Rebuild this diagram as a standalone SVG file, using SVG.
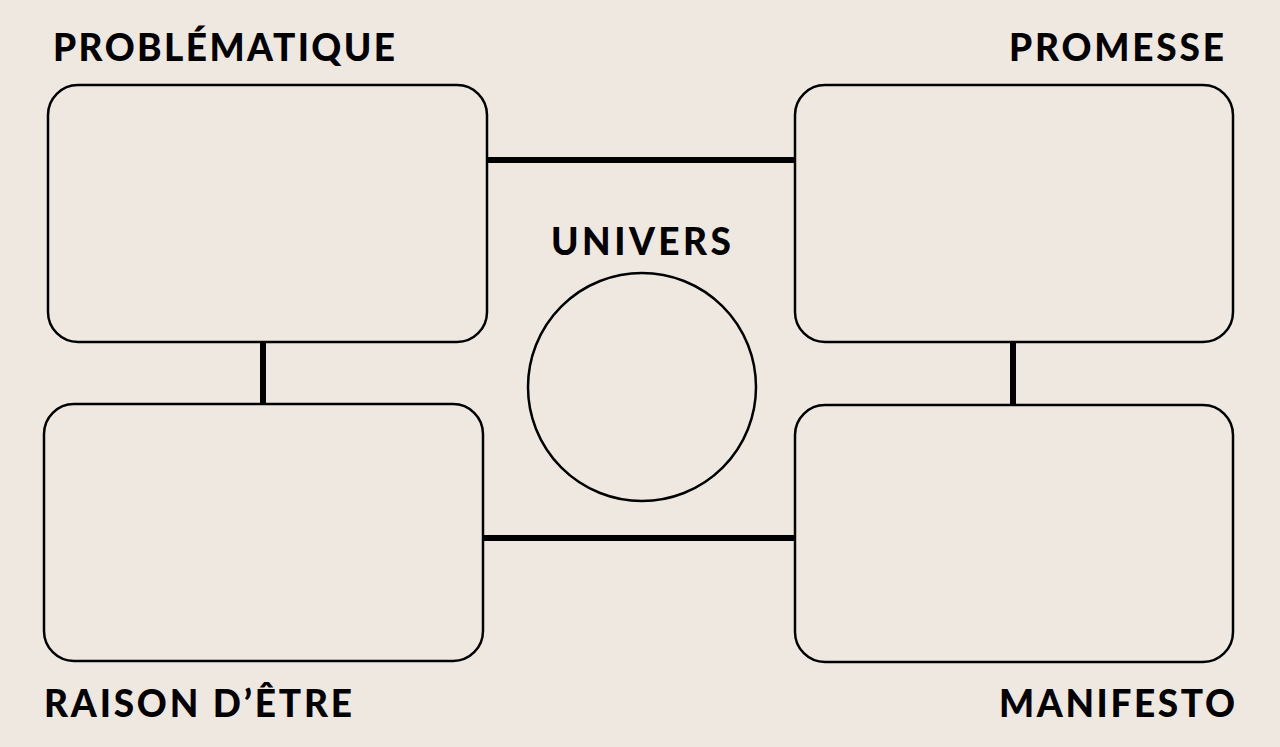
<svg xmlns="http://www.w3.org/2000/svg" width="1280" height="747" viewBox="0 0 1280 747">
<style>
.box{fill:none;stroke:#000;stroke-width:2.5}
.lnk{stroke:#000;stroke-width:6}
.t{font-family:Lato,"Liberation Sans",sans-serif;font-weight:900;font-size:37px;fill:#000}
</style>
<rect width="1280" height="747" fill="#efe8e1"/>
<g id="connectors">
<line class="lnk" x1="487" y1="160" x2="795" y2="160"/>
<line class="lnk" x1="483" y1="538" x2="795" y2="538"/>
<line class="lnk" x1="263" y1="342" x2="263" y2="404"/>
<line class="lnk" x1="1013" y1="342" x2="1013" y2="405"/>
</g>
<g id="problematique"><rect class="box" x="48" y="85" width="439" height="257" rx="30"/><text class="t" x="53" y="61" textLength="342">PROBLÉMATIQUE</text></g>
<g id="promesse"><rect class="box" x="795" y="85" width="438" height="257" rx="30"/><text class="t" x="1009" y="61" textLength="215">PROMESSE</text></g>
<g id="raison"><rect class="box" x="44" y="404" width="439" height="257" rx="30"/><text class="t" x="44" y="717" textLength="308">RAISON D’ÊTRE</text></g>
<g id="manifesto"><rect class="box" x="795" y="405" width="438" height="257" rx="30"/><text class="t" x="999" y="717" textLength="236">MANIFESTO</text></g>
<g id="univers"><circle class="box" cx="642" cy="387" r="114"/><text class="t" x="551" y="255" textLength="180">UNIVERS</text></g>
</svg>
